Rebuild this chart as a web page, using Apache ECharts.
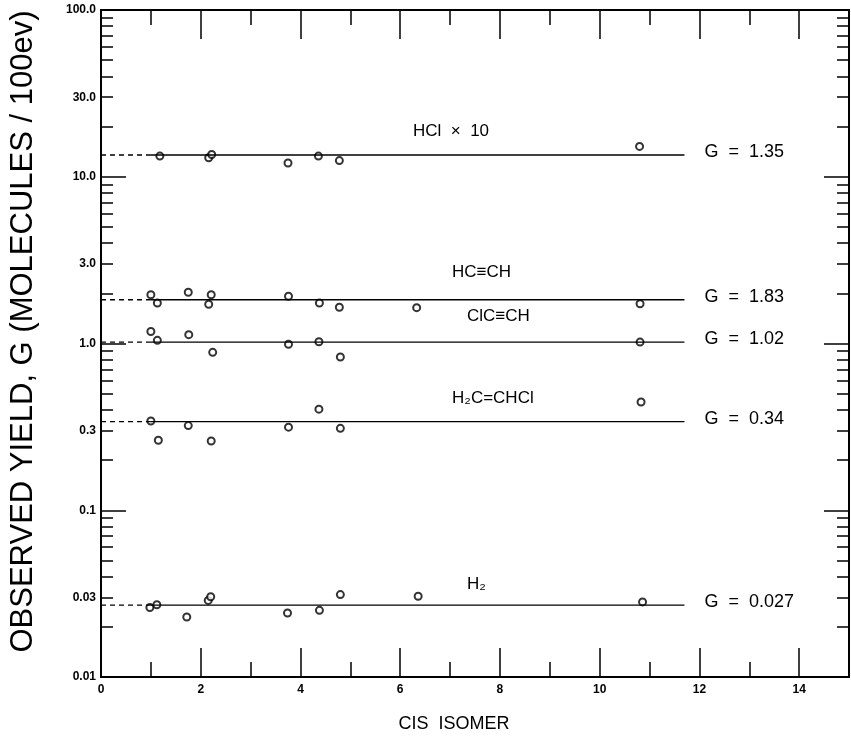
<!DOCTYPE html>
<html><head><meta charset="utf-8">
<script src="https://cdn.jsdelivr.net/npm/echarts@6/dist/echarts.min.js"></script>
<style>html,body{margin:0;padding:0;background:#fff}#c{width:851px;height:750px}</style>
</head><body><div id="c"></div>
<script>
// ---- data ----
const xHCl  = [1.18, 2.16, 2.22, 3.75, 4.36, 4.78, 10.80];
const yHCl  = [13.3, 13.0, 13.6, 12.1, 13.3, 12.5, 15.2];          // HCl x 10
const xC2H2 = [1.00, 1.13, 1.75, 2.16, 2.21, 3.76, 4.38, 4.78, 6.33, 10.81];
const yC2H2 = [1.96, 1.75, 2.03, 1.72, 1.96, 1.92, 1.75, 1.65, 1.64, 1.73];
const xClC  = [1.00, 1.13, 1.76, 2.24, 3.76, 4.37, 4.80, 10.81];
const yClC  = [1.18, 1.045, 1.13, 0.885, 0.99, 1.025, 0.83, 1.02];
const xVC   = [1.00, 1.15, 1.75, 2.21, 3.76, 4.37, 4.80, 10.83];
const yVC   = [0.343, 0.263, 0.322, 0.26, 0.315, 0.404, 0.31, 0.446];
const xH2   = [0.98, 1.12, 1.72, 2.15, 2.20, 3.74, 4.38, 4.80, 6.36, 10.86];
const yH2   = [0.0261, 0.0271, 0.0229, 0.0288, 0.0303, 0.0242, 0.0251, 0.0312, 0.0305, 0.0282];

const fitG      = [13.5, 1.83, 1.02, 0.34, 0.027];
const fitLabels = ['G  =  1.35', 'G  =  1.83', 'G  =  1.02', 'G  =  0.34', 'G  =  0.027'];
const fitDashX  = [0, 1.0];
const fitSolidX = [1.0, 11.7];

const compoundNames = ['HCl  ×  10', 'HC≡CH', 'ClC≡CH', 'H₂C=CHCl', 'H₂'];

// ---- tick labels ----
const xMajorTicks = [0, 2, 4, 6, 8, 10, 12, 14];
const xTickLabels = ['0', '2', '4', '6', '8', '10', '12', '14'];
const xMinorTicks = [1, 3, 5, 7, 9, 11, 13];
const yLabelValues = [0.01, 0.03, 0.1, 0.3, 1, 3, 10, 30, 100];
const yTickLabels  = ['0.01', '0.03', '0.1', '0.3', '1.0', '3.0', '10.0', '30.0', '100.0'];
const yMajorTicks  = [0.01, 0.1, 1, 10, 100];
const yMinorTicks  = [0.02,0.03,0.04,0.05,0.06,0.07,0.08,0.09,
                      0.2,0.3,0.4,0.5,0.6,0.7,0.8,0.9,
                      2,3,4,5,6,7,8,9,
                      20,30,40,50,60,70,80,90];

// ---- styling ----
const FONT = '"Liberation Sans", Arial, "DejaVu Sans", sans-serif';
const annPos = [[413,131],[452,272],[467,316],[452,398],[467,584]];

function xAxis(pos, ticks, len, withLabels, extra) {
  return Object.assign({
    type: 'value', position: pos, min: 0, max: 15,
    splitLine: {show: false},
    axisLine: {show: true, onZero: false, lineStyle: {color: '#000', width: 2}},
    axisTick: {show: true, inside: true, length: len, customValues: ticks, lineStyle: {color: '#000', width: 1.5}},
    axisLabel: withLabels ? {
      show: true, customValues: xMajorTicks, margin: 7,
      fontFamily: FONT, fontWeight: 'bold', fontSize: 12, color: '#000',
      formatter: v => xTickLabels[xMajorTicks.indexOf(Math.round(v))]
    } : {show: false}
  }, extra || {});
}
function yAxis(pos, ticks, len, withLabels, extra) {
  return Object.assign({
    type: 'log', logBase: 10, position: pos, min: 0.01, max: 100,
    splitLine: {show: false}, minorTick: {show: false},
    axisLine: {show: true, onZero: false, lineStyle: {color: '#000', width: 2}},
    axisTick: {show: true, inside: true, length: len, customValues: ticks, lineStyle: {color: '#000', width: 1.5}},
    axisLabel: withLabels ? {
      show: true, customValues: yLabelValues, margin: 5,
      fontFamily: FONT, fontWeight: 'bold', fontSize: 12, color: '#000',
      formatter: v => {
        let best = 0, d = 1e9;
        yLabelValues.forEach((t, i) => { const e = Math.abs(Math.log10(t) - Math.log10(v)); if (e < d) { d = e; best = i; } });
        return yTickLabels[best];
      }
    } : {show: false}
  }, extra || {});
}

const scatterSets = [[xHCl,yHCl],[xC2H2,yC2H2],[xClC,yClC],[xVC,yVC],[xH2,yH2]];
const series = [];
fitG.forEach((g, i) => {
  series.push({
    type: 'line', symbol: 'none', silent: true,
    data: fitDashX.map(x => [x, g]),
    lineStyle: {color: '#000', width: 1.3, type: [5, 4]}
  });
  series.push({
    type: 'line', symbol: 'none', silent: true,
    data: fitSolidX.map(x => [x, g]),
    lineStyle: {color: '#000', width: 1.3},
    endLabel: {show: true, formatter: fitLabels[i], distance: 20, offset: [0, -3],
               fontFamily: FONT, fontSize: 18, color: '#000'}
  });
});
scatterSets.forEach(([xs, ys]) => {
  series.push({
    type: 'scatter', symbol: 'emptyCircle', symbolSize: 7,
    data: xs.map((x, i) => [x, ys[i]]),
    itemStyle: {color: '#000', borderColor: '#000', borderWidth: 1.2}
  });
});

const chart = echarts.init(document.getElementById('c'), null, {renderer: 'canvas'});
chart.setOption({
  animation: false,
  backgroundColor: '#fff',
  grid: {left: 97, right: 2, top: 10, bottom: 73},
  xAxis: [
    xAxis('bottom', xMajorTicks, 29, true, {
      name: 'CIS  ISOMER', nameLocation: 'middle', nameGap: 38,
      nameTextStyle: {fontFamily: FONT, fontSize: 18, color: '#000', padding: [0, 42, 0, 0]}
    }),
    xAxis('bottom', xMinorTicks, 15, false),
    xAxis('top', xMajorTicks, 29, false),
    xAxis('top', xMinorTicks, 15, false)
  ],
  yAxis: [
    yAxis('left', yMajorTicks, 25, true, {
      name: 'OBSERVED YIELD, G (MOLECULES / 100ev)', nameLocation: 'middle', nameGap: 62,
      nameTextStyle: {fontFamily: FONT, fontSize: 31, color: '#000', padding: [0, 0, 0, 24]}
    }),
    yAxis('left', yMinorTicks, 12, false),
    yAxis('right', yMajorTicks, 25, false),
    yAxis('right', yMinorTicks, 12, false)
  ],
  series: series,
  graphic: compoundNames.map((t, i) => ({
    type: 'text', x: annPos[i][0], y: annPos[i][1],
    style: {text: t, fontFamily: FONT, fontSize: 17, fill: '#000', verticalAlign: 'middle'}
  }))
});
</script></body></html>
